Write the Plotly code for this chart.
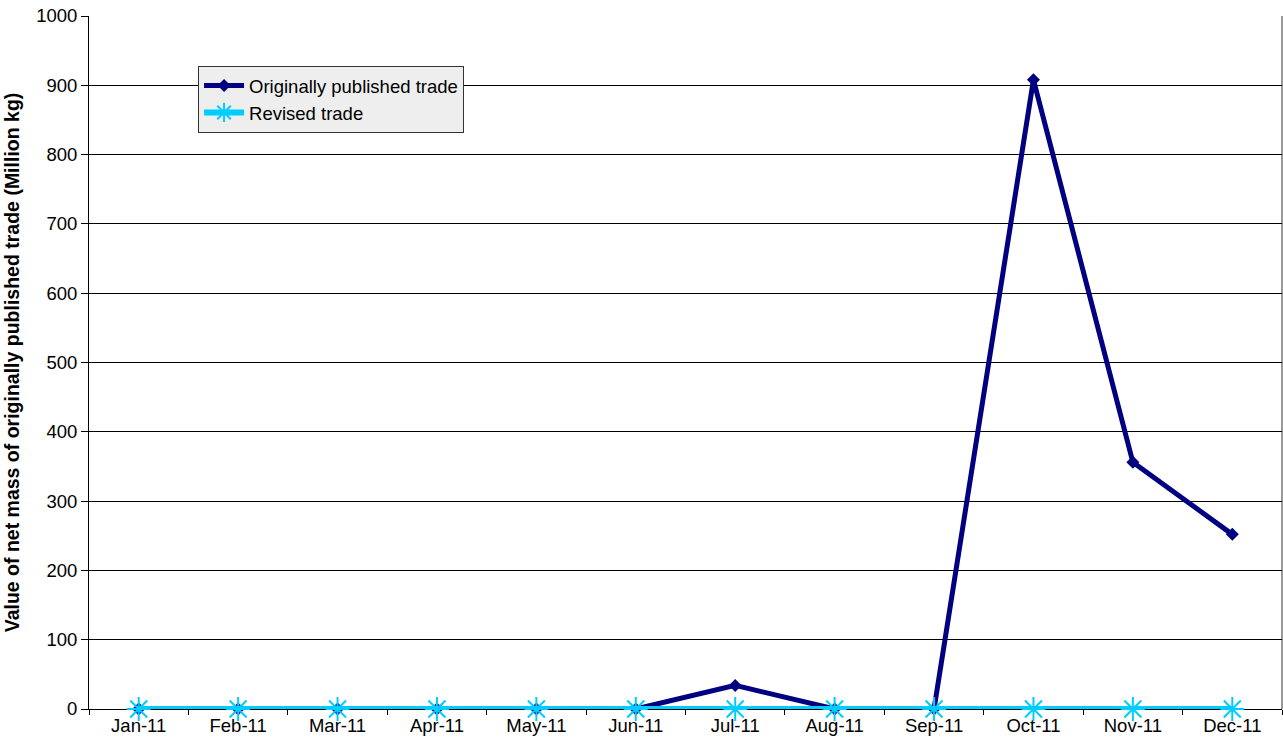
import plotly.graph_objects as go

months = ["Jan-11", "Feb-11", "Mar-11", "Apr-11", "May-11", "Jun-11",
          "Jul-11", "Aug-11", "Sep-11", "Oct-11", "Nov-11", "Dec-11"]
original = [0, 0, 0, 0, 0, 0, 34, 0, 0, 908, 356, 252]
revised = [0, 0, 0, 0, 0, 0, 0, 0, 0, 0, 0, 0]
y_ticks = [0, 100, 200, 300, 400, 500, 600, 700, 800, 900, 1000]

fig = go.Figure()
fig.add_trace(go.Scatter(
    x=months, y=original, name="Originally published trade",
    mode="lines+markers", cliponaxis=False,
    line=dict(color="#000080", width=5),
    marker=dict(symbol="diamond", size=10, color="#000080"),
))
fig.add_trace(go.Scatter(
    x=months, y=revised, name="Revised trade",
    mode="lines+markers", cliponaxis=False,
    line=dict(color="#00CCFF", width=6),
    marker=dict(symbol="asterisk-open", size=20, color="#00CCFF",
                line=dict(color="#00CCFF", width=2)),
))

fig.update_layout(
    width=1283, height=751,
    margin=dict(l=89, r=1, t=16, b=42),
    paper_bgcolor="white", plot_bgcolor="white",
    font=dict(family="Liberation Sans, Arial", size=18.5, color="black"),
    showlegend=True,
    legend=dict(
        x=0.0914, y=0.928, xanchor="left", yanchor="top",
        bgcolor="#EEEEEE", bordercolor="#333333", borderwidth=1,
        font=dict(size=18.5), tracegroupgap=0, itemwidth=40,
    ),
    xaxis=dict(
        type="category", range=[-0.5, 11.5],
        tickson="boundaries", ticks="outside", ticklen=5,
        tickcolor="black", showgrid=False,
        showline=True, linecolor="black", linewidth=1,
        mirror=False, zeroline=False, layer="below traces",
        tickfont=dict(size=18.5),
    ),
    yaxis=dict(
        range=[0, 1000], tickvals=y_ticks,
        ticks="outside", ticklen=7, tickcolor="black",
        showgrid=True, gridcolor="black", gridwidth=1,
        showline=True, linecolor="black", linewidth=1,
        zeroline=False,
        title=dict(text="<b>Value of net mass of originally published trade (Million kg)</b>",
                   font=dict(size=19.5), standoff=11),
        tickfont=dict(size=18.5),
        automargin=False,
    ),
)
# right border
fig.add_shape(type="line", xref="paper", yref="paper", x0=1, x1=1, y0=0, y1=1,
              line=dict(color="#333333", width=1), layer="below")

fig.write_html("out.html", config={"displayModeBar": False},
               post_script="document.body.style.margin='0';")
